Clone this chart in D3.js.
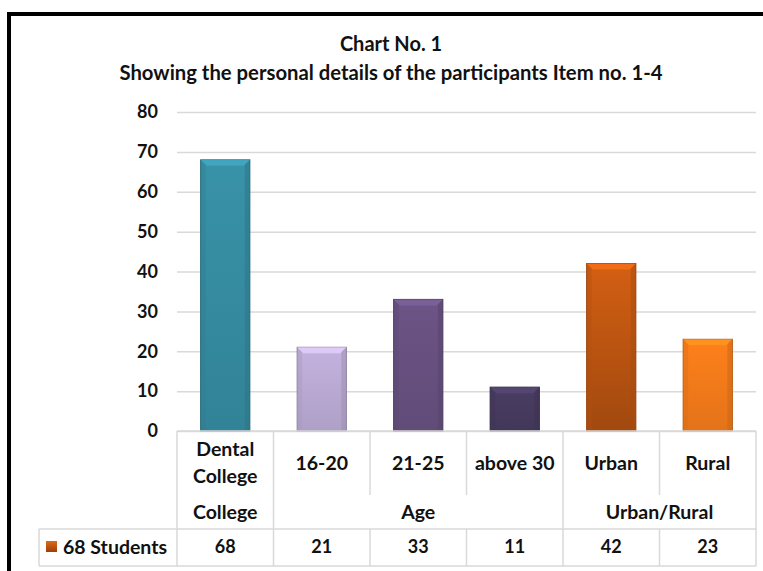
<!DOCTYPE html>
<html><head><meta charset="utf-8">
<script src="https://cdn.jsdelivr.net/npm/d3@7/dist/d3.min.js"></script>
<style>
html,body{margin:0;padding:0;background:#fff;}
svg{display:block;}
text{font-family:Lato,"Open Sans",sans-serif;font-weight:bold;fill:#111;}
</style></head>
<body>
<svg id="chart" width="763" height="571"></svg>
<script>
const titleLines = ["Chart No. 1", "Showing the personal details of the participants Item no. 1-4"];
const categories = ["Dental College", "16-20", "21-25", "above 30", "Urban", "Rural"];
const categoryLabelLines = [["Dental", "College"], ["16-20"], ["21-25"], ["above 30"], ["Urban"], ["Rural"]];
const groupNames = ["College", "Age", "Urban/Rural"];
const groupSpans = [1, 3, 2];
const seriesName = "68 Students";
const values = [68, 21, 33, 11, 42, 23];
const yTicks = [0, 10, 20, 30, 40, 50, 60, 70, 80];
const barColors = ["#358a9f", "#b9a9d2", "#66507f", "#463a5e", "#c85a12", "#f1791a"];

const svg = d3.select("#chart");
const L = 177, R = 756, T = 112, B = 431;
const rowCat = 495, rowGroup = 529, rowLegend = 566, legendLeft = 39;
const wordSize = "19.5px", numSize = "18px";

// frame
svg.append("rect").attr("x", 7).attr("y", 12).attr("width", 770).attr("height", 4).attr("fill", "#000");
svg.append("rect").attr("x", 7).attr("y", 12).attr("width", 4).attr("height", 570).attr("fill", "#000");

// title
svg.append("text").attr("x", 391).attr("y", 44).attr("dy", "0.35em").attr("text-anchor", "middle").style("font-size", "20px").text(titleLines[0]);
svg.append("text").attr("x", 391).attr("y", 73).attr("dy", "0.35em").attr("text-anchor", "middle").style("font-size", "20.3px").text(titleLines[1]);

const x = d3.scaleBand().domain(categories).range([L, R]).paddingInner(0.49).paddingOuter(0.245);
const y = d3.scaleLinear().domain([0, 80]).range([B, T]);

// grid + y axis
const yAxis = d3.axisLeft(y).tickValues(yTicks).tickSize(-(R - L)).tickPadding(19).tickFormat(d3.format("d"));
const gy = svg.append("g").attr("transform", `translate(${L},0)`).call(yAxis);
gy.select(".domain").remove();
gy.selectAll(".tick line").attr("stroke", "#d9d9d9").attr("stroke-width", 1.5);
gy.selectAll(".tick text").style("font-size", numSize).style("font-family", "Lato,sans-serif").style("font-weight", "bold").attr("fill", "#111");

// gradients
const defs = svg.append("defs");
barColors.forEach((c, i) => {
  const g = defs.append("linearGradient").attr("id", "g" + i).attr("x1", 0).attr("x2", 0).attr("y1", 0).attr("y2", 1);
  const base = d3.color(c);
  g.append("stop").attr("offset", "0%").attr("stop-color", base.brighter(0.15));
  g.append("stop").attr("offset", "100%").attr("stop-color", i === 4 ? base.darker(0.6) : base.darker(0.15));
});
const lg = defs.append("linearGradient").attr("id", "lg").attr("x1", 0).attr("x2", 0).attr("y1", 0).attr("y2", 1);
lg.append("stop").attr("offset", "0%").attr("stop-color", "#e06a18");
lg.append("stop").attr("offset", "100%").attr("stop-color", "#9c3f0b");

// bars
const bars = svg.append("g").selectAll("g").data(values).join("g");
bars.append("rect")
  .attr("x", (d, i) => x(categories[i]))
  .attr("y", d => y(d))
  .attr("width", x.bandwidth())
  .attr("height", d => y(0) - y(d))
  .attr("fill", (d, i) => `url(#g${i})`)
  .attr("stroke", (d, i) => d3.color(barColors[i]).darker(0.8))
  .attr("stroke-width", 1);
// bevel highlight on top
bars.append("path")
  .attr("d", (d, i) => {
    const x0 = x(categories[i]), w = x.bandwidth(), y0 = y(d), b = 6;
    return `M${x0},${y0}L${x0 + w},${y0}L${x0 + w - b},${y0 + b}L${x0 + b},${y0 + b}Z`;
  })
  .attr("fill", (d, i) => d3.color(barColors[i]).brighter(0.6))
  .attr("opacity", 0.8);
// side shading
bars.append("path")
  .attr("d", (d, i) => {
    const x0 = x(categories[i]), w = x.bandwidth(), y0 = y(d), y1 = y(0), b = 5;
    return `M${x0 + w},${y0}L${x0 + w},${y1}L${x0 + w - b},${y1}L${x0 + w - b},${y0 + b}Z`;
  })
  .attr("fill", (d, i) => d3.color(barColors[i]).darker(0.5))
  .attr("opacity", 0.5);
bars.append("path")
  .attr("d", (d, i) => {
    const x0 = x(categories[i]), y0 = y(d), y1 = y(0), b = 5;
    return `M${x0},${y0}L${x0},${y1}L${x0 + b},${y1}L${x0 + b},${y0 + b}Z`;
  })
  .attr("fill", (d, i) => d3.color(barColors[i]).darker(0.3))
  .attr("opacity", 0.4);

// table lines
const step = x.step();
const lineColor = "#d9d9d9";
const tbl = svg.append("g").attr("stroke", lineColor).attr("stroke-width", 1.5);
tbl.append("line").attr("x1", L).attr("x2", R).attr("y1", B).attr("y2", B);
tbl.append("line").attr("x1", legendLeft).attr("x2", R).attr("y1", rowGroup).attr("y2", rowGroup);
tbl.append("line").attr("x1", legendLeft).attr("x2", R).attr("y1", rowLegend).attr("y2", rowLegend);
tbl.append("line").attr("x1", legendLeft).attr("x2", legendLeft).attr("y1", rowGroup).attr("y2", rowLegend);
let acc = 0;
const groupEdges = [0];
groupSpans.forEach(s => { acc += s; groupEdges.push(acc); });
groupEdges.forEach(e => {
  tbl.append("line").attr("x1", L + e * step).attr("x2", L + e * step).attr("y1", B).attr("y2", rowLegend);
});
categories.forEach((c, i) => {
  if (i === 0 || groupEdges.includes(i)) return;
  tbl.append("line").attr("x1", L + i * step).attr("x2", L + i * step).attr("y1", B).attr("y2", rowCat);
  tbl.append("line").attr("x1", L + i * step).attr("x2", L + i * step).attr("y1", rowGroup).attr("y2", rowLegend);
});

// category labels
categoryLabelLines.forEach((lines, i) => {
  const cx = x(categories[i]) + x.bandwidth() / 2;
  const cy = 463;
  const lh = 27;
  lines.forEach((t, j) => {
    svg.append("text").attr("x", cx).attr("y", cy + (j - (lines.length - 1) / 2) * lh)
      .attr("dy", "0.35em").attr("text-anchor", "middle").style("font-size", wordSize).text(t);
  });
});
// group labels
groupNames.forEach((g, i) => {
  const cx = L + (groupEdges[i] + groupEdges[i + 1]) / 2 * step;
  svg.append("text").attr("x", cx).attr("y", 512).attr("dy", "0.35em").attr("text-anchor", "middle")
    .style("font-size", wordSize).text(g);
});
// legend row
svg.append("rect").attr("x", 46).attr("y", 541).attr("width", 11).attr("height", 11).attr("fill", "url(#lg)");
svg.append("text").attr("x", 63).attr("y", 547).attr("dy", "0.35em").style("font-size", wordSize).text(seriesName);
values.forEach((v, i) => {
  svg.append("text").attr("x", x(categories[i]) + x.bandwidth() / 2).attr("y", 547).attr("dy", "0.35em")
    .attr("text-anchor", "middle").style("font-size", numSize).text(v);
});
</script>
</body></html>
